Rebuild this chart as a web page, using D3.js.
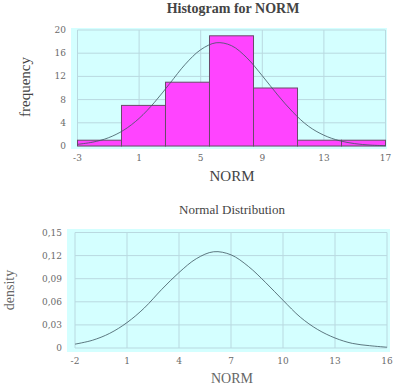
<!DOCTYPE html>
<html>
<head>
<meta charset="utf-8">
<script src="https://cdn.jsdelivr.net/npm/d3@7"></script>
<style>
  body { margin: 0; background: #fff; }
  svg text { font-family: "Liberation Serif", "DejaVu Serif", serif; }
  svg text.tick { font-family: "DejaVu Serif", serif; }
</style>
</head>
<body>
<div id="chart"></div>
<script>
// histogram bins (NORM) and counts
var binEdges = [-3, -0.143, 2.714, 5.571, 8.429, 11.286, 14.143, 17];
var binCounts = [1, 7, 11, 19, 10, 1, 1];

// fitted curve over the histogram
var fitX = [-3, -2, -1, 0, 1, 2, 3, 4, 5, 6, 7, 8, 9, 10, 11, 12, 13, 14, 15, 16, 17];
var fitY = [0.29, 0.67, 1.41, 2.73, 4.76, 7.53, 10.8, 14.1, 16.6, 17.8, 17.3, 15.2, 12.1, 8.8, 5.8, 3.4, 1.86, 0.92, 0.41, 0.16, 0.06];

// normal density panel
var densX = [-2, -1, 0, 1, 2, 3, 4, 5, 6, 7, 8, 9, 10, 11, 12, 13, 14, 15, 16];
var densY = [0.005, 0.010, 0.019, 0.033, 0.052, 0.076, 0.098, 0.116, 0.125, 0.121, 0.106, 0.085, 0.062, 0.040, 0.024, 0.013, 0.006, 0.003, 0.001];

var histXTicks = [-3, 1, 5, 9, 13, 17];
var histYTicks = [0, 4, 8, 12, 16, 20];
var densXTicks = [-2, 1, 4, 7, 10, 13, 16];
var densYTicks = [0, 0.03, 0.06, 0.09, 0.12, 0.15];

var width = 399, height = 386;
var bg = "#d4ffff", grid = "#b9d9e0", tickCol = "#6a6a6a";

var svg = d3.select("#chart").append("svg")
    .attr("width", width)
    .attr("height", height);

function panel(opt) {
    var g = svg.append("g");
    var x = d3.scaleLinear().domain(opt.xd).range(opt.xr);
    var y = d3.scaleLinear().domain(opt.yd).range(opt.yr);

    g.append("rect")
        .attr("x", opt.bg[0]).attr("y", opt.bg[1])
        .attr("width", opt.bg[2] - opt.bg[0])
        .attr("height", opt.bg[3] - opt.bg[1])
        .attr("fill", bg);

    g.selectAll(".vg").data(opt.xt).enter().append("line")
        .attr("x1", function(d) { return x(d); })
        .attr("x2", function(d) { return x(d); })
        .attr("y1", y.range()[1]).attr("y2", y.range()[0])
        .attr("stroke", grid).attr("stroke-width", 1);

    g.selectAll(".hg").data(opt.yt).enter().append("line")
        .attr("x1", x.range()[0]).attr("x2", x.range()[1])
        .attr("y1", function(d) { return y(d); })
        .attr("y2", function(d) { return y(d); })
        .attr("stroke", grid).attr("stroke-width", 1);

    g.selectAll(".xl").data(opt.xt).enter().append("text")
        .attr("class", "tick")
        .attr("x", function(d) { return x(d); })
        .attr("y", opt.xLabelY)
        .attr("text-anchor", "middle")
        .attr("font-size", 9)
        .attr("fill", tickCol)
        .text(function(d) { return d; });

    g.selectAll(".yl").data(opt.yt).enter().append("text")
        .attr("class", "tick")
        .attr("x", opt.yLabelX)
        .attr("y", function(d) { return y(d) + 3; })
        .attr("text-anchor", "end")
        .attr("font-size", 9)
        .attr("fill", tickCol)
        .text(opt.yfmt);

    return { g: g, x: x, y: y };
}

// ---- histogram
var h = panel({
    xd: [-3, 17], xr: [77.5, 385.5],
    yd: [0, 20], yr: [146, 30],
    bg: [71, 28, 387, 149],
    xt: histXTicks, yt: histYTicks,
    xLabelY: 161, yLabelX: 66,
    yfmt: function(d) { return d; }
});

h.g.selectAll(".bar").data(binCounts).enter().append("rect")
    .attr("x", function(d, i) { return h.x(binEdges[i]); })
    .attr("width", function(d, i) { return h.x(binEdges[i + 1]) - h.x(binEdges[i]); })
    .attr("y", function(d) { return h.y(d); })
    .attr("height", function(d) { return h.y(0) - h.y(d); })
    .attr("fill", "#ff44ff")
    .attr("stroke", "#6a4a6a")
    .attr("stroke-width", 1);

h.g.append("path")
    .datum(d3.zip(fitX, fitY))
    .attr("fill", "none")
    .attr("stroke", "#3d5560")
    .attr("stroke-width", 0.8)
    .attr("d", d3.line()
        .curve(d3.curveCatmullRom)
        .x(function(d) { return h.x(d[0]); })
        .y(function(d) { return h.y(d[1]); }));

svg.append("text")
    .attr("x", 233).attr("y", 13)
    .attr("text-anchor", "middle")
    .attr("font-size", 14).attr("font-weight", "bold")
    .attr("fill", "#444")
    .text("Histogram for NORM");

svg.append("text")
    .attr("transform", "translate(30,87) rotate(-90)")
    .attr("text-anchor", "middle")
    .attr("font-size", 15)
    .attr("fill", "#444")
    .text("frequency");

svg.append("text")
    .attr("x", 232).attr("y", 181)
    .attr("text-anchor", "middle")
    .attr("font-size", 15)
    .attr("fill", "#444")
    .text("NORM");

// ---- normal density
var n = panel({
    xd: [-2, 16], xr: [75, 387],
    yd: [0, 0.15], yr: [348, 232.5],
    bg: [67, 229, 390, 352],
    xt: densXTicks, yt: densYTicks,
    xLabelY: 364, yLabelX: 62,
    yfmt: function(d) { return d === 0 ? "0" : d3.format(".2f")(d).replace(".", ","); }
});

n.g.append("path")
    .datum(d3.zip(densX, densY))
    .attr("fill", "none")
    .attr("stroke", "#3d5560")
    .attr("stroke-width", 0.8)
    .attr("d", d3.line()
        .curve(d3.curveCatmullRom)
        .x(function(d) { return n.x(d[0]); })
        .y(function(d) { return n.y(d[1]); }));

svg.append("text")
    .attr("x", 232).attr("y", 214)
    .attr("text-anchor", "middle")
    .attr("font-size", 13)
    .attr("fill", "#444")
    .text("Normal Distribution");

svg.append("text")
    .attr("transform", "translate(14,290) rotate(-90)")
    .attr("text-anchor", "middle")
    .attr("font-size", 14)
    .attr("fill", "#666")
    .text("density");

svg.append("text")
    .attr("x", 232).attr("y", 383)
    .attr("text-anchor", "middle")
    .attr("font-size", 14)
    .attr("fill", "#666")
    .text("NORM");
</script>
</body>
</html>
